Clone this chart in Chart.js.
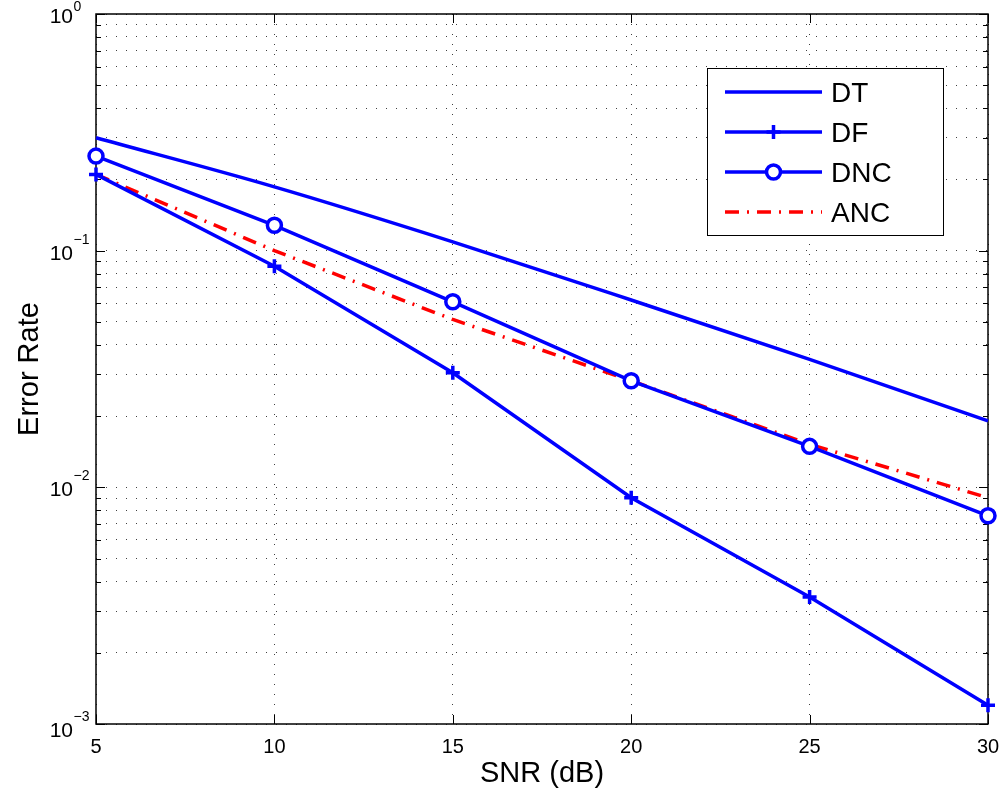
<!DOCTYPE html>
<html>
<head>
<meta charset="utf-8">
<script src="https://cdn.jsdelivr.net/npm/chart.js@4"></script>
<style>
  html, body { margin: 0; padding: 0; background: #fff; }
  #wrap { width: 1005px; height: 799px; position: relative; }
</style>
</head>
<body>
<div id="wrap"><canvas id="chart"></canvas></div>
<script>
// values
var snr = [5, 10, 15, 20, 25, 30];
var dtRate = [0.300, 0.186, 0.109, 0.0619, 0.0347, 0.0191];
var dfRate = [0.210, 0.0859, 0.0305, 0.00904, 0.00344, 0.00120];
var dncRate = [0.251, 0.128, 0.0608, 0.0282, 0.0149, 0.00758];
var ancRate = [0.210, 0.100, 0.0512, 0.0282, 0.0152, 0.00904];
var xTicks = [5, 10, 15, 20, 25, 30];
var yDecades = [-3, -2, -1, 0];

var FONT = "'Liberation Sans', Arial, Helvetica, sans-serif";

function isDecade(v) {
  var l = Math.log10(v);
  return Math.abs(l - Math.round(l)) < 1e-6;
}

function pts(ys) {
  return snr.map(function (x, i) { return { x: x, y: ys[i] }; });
}

// draws box, inward ticks and the 10^n labels
var axesBox = {
  id: 'axesBox',
  beforeDatasetsDraw: function (chart) {
    var ctx = chart.ctx, a = chart.chartArea;
    var xs = chart.scales.x, ys = chart.scales.y;
    ctx.save();
    ctx.strokeStyle = '#000';
    ctx.lineWidth = 1;
    ctx.beginPath();
    xs.ticks.forEach(function (t) {
      var px = Math.round(xs.getPixelForValue(t.value)) + 0.5;
      ctx.moveTo(px, a.bottom); ctx.lineTo(px, a.bottom - 9);
      ctx.moveTo(px, a.top); ctx.lineTo(px, a.top + 9);
    });
    ys.ticks.forEach(function (t) {
      var py = Math.round(ys.getPixelForValue(t.value)) + 0.5;
      var len = isDecade(t.value) ? 9 : 5;
      ctx.moveTo(a.left, py); ctx.lineTo(a.left + len, py);
      ctx.moveTo(a.right, py); ctx.lineTo(a.right - len, py);
    });
    ctx.stroke();
    ctx.lineWidth = 1.5;
    ctx.strokeRect(a.left, a.top, a.right - a.left, a.bottom - a.top);

    // y tick labels
    ctx.fillStyle = '#000';
    ctx.textBaseline = 'alphabetic';
    yDecades.forEach(function (e) {
      var py = ys.getPixelForValue(Math.pow(10, e));
      var base = py + 9, sup = py - 7;
      if (sup - 10 < 0) { sup = 11; }
      if (e === yDecades[0]) { base += 4; sup += 4; }
      ctx.font = '21px ' + FONT;
      ctx.textAlign = 'right';
      ctx.fillText('10', 73, base);
      ctx.font = '14px ' + FONT;
      ctx.textAlign = 'left';
      ctx.fillText(e === 0 ? '0' : '\u2212' + (-e), 73.5, sup);
    });
    ctx.restore();
  },
  afterDraw: function (chart) {
    // legend box, top right inside the axes
    var ctx = chart.ctx;
    var lx = 707, ly = 68, lw = 236, lh = 167;
    ctx.save();
    ctx.fillStyle = '#fff';
    ctx.fillRect(lx, ly, lw, lh);
    ctx.strokeStyle = '#000';
    ctx.lineWidth = 1;
    ctx.strokeRect(lx + 0.5, ly + 0.5, lw, lh);
    chart.data.datasets.forEach(function (ds, i) {
      var y = 92 + i * 40;
      ctx.strokeStyle = ds.borderColor;
      ctx.lineWidth = ds.borderWidth;
      ctx.setLineDash(ds.borderDash || []);
      ctx.beginPath();
      ctx.moveTo(725, y); ctx.lineTo(822, y);
      ctx.stroke();
      ctx.setLineDash([]);
      if (ds.pointRadius > 0) {
        ctx.fillStyle = ds.pointBackgroundColor;
        ctx.strokeStyle = ds.borderColor;
        ctx.lineWidth = ds.pointBorderWidth;
        ctx.beginPath();
        if (ds.pointStyle === 'circle') {
          ctx.arc(773.5, y, ds.pointRadius, 0, Math.PI * 2);
          ctx.fill();
        } else {
          ctx.moveTo(773.5 - ds.pointRadius, y); ctx.lineTo(773.5 + ds.pointRadius, y);
          ctx.moveTo(773.5, y - ds.pointRadius); ctx.lineTo(773.5, y + ds.pointRadius);
        }
        ctx.stroke();
      }
      ctx.fillStyle = '#000';
      ctx.font = '28px ' + FONT;
      ctx.textAlign = 'left';
      ctx.textBaseline = 'alphabetic';
      ctx.fillText(ds.label, 831, y + 10);
    });
    ctx.restore();
  }
};

new Chart(document.getElementById('chart'), {
  type: 'line',
  data: {
    datasets: [
      {
        label: 'DT',
        data: pts(dtRate),
        borderColor: '#0000ff',
        borderWidth: 3.5,
        cubicInterpolationMode: 'monotone',
        pointRadius: 0,
        pointBorderWidth: 0
      },
      {
        label: 'DF',
        data: pts(dfRate),
        borderColor: '#0000ff',
        borderWidth: 3.5,
        pointStyle: 'cross',
        pointRadius: 7,
        pointBorderWidth: 3.5,
        pointBorderColor: '#0000ff',
        pointBackgroundColor: '#0000ff'
      },
      {
        label: 'DNC',
        data: pts(dncRate),
        borderColor: '#0000ff',
        borderWidth: 3.5,
        pointStyle: 'circle',
        pointRadius: 7,
        pointBorderWidth: 3.5,
        pointBorderColor: '#0000ff',
        pointBackgroundColor: '#ffffff'
      },
      {
        label: 'ANC',
        data: pts(ancRate),
        borderColor: '#ff0000',
        borderWidth: 3.5,
        borderDash: [14, 8, 2, 8],
        pointRadius: 0,
        pointBorderWidth: 0
      }
    ]
  },
  options: {
    animation: false,
    responsive: true,
    maintainAspectRatio: false,
    devicePixelRatio: 1,
    clip: false,
    layout: { padding: { left: 0, top: 14, right: 17, bottom: 0 } },
    elements: { line: { tension: 0 } },
    plugins: {
      legend: { display: false },
      tooltip: { enabled: false }
    },
    scales: {
      x: {
        type: 'linear',
        min: 5,
        max: 30,
        afterBuildTicks: function (scale) {
          scale.ticks = xTicks.map(function (v) { return { value: v }; });
        },
        afterFit: function (scale) {
          scale.height = 75;
          scale.paddingLeft = 0;
          scale.paddingRight = 0;
        },
        grid: { color: 'rgba(0,0,0,0.75)', lineWidth: 1, drawTicks: false },
        border: { display: false, dash: [1, 9] },
        ticks: {
          color: '#000',
          padding: 11,
          maxRotation: 0,
          autoSkip: false,
          font: { family: FONT, size: 20 }
        },
        title: {
          display: true,
          text: 'SNR (dB)',
          color: '#000',
          font: { family: FONT, size: 29 },
          padding: { top: 0, bottom: 8 }
        }
      },
      y: {
        type: 'logarithmic',
        min: 0.001,
        max: 1,
        afterBuildTicks: function (scale) {
          var t = [];
          yDecades.forEach(function (e) {
            var n = e === 0 ? 1 : 9;
            for (var k = 1; k <= n; k++) {
              t.push({ value: k * Math.pow(10, e) });
            }
          });
          scale.ticks = t;
        },
        afterFit: function (scale) {
          scale.width = 96;
          scale.paddingTop = 0;
          scale.paddingBottom = 0;
        },
        grid: { color: 'rgba(0,0,0,0.75)', lineWidth: 1, drawTicks: false },
        border: { display: false, dash: [1, 9] },
        ticks: { display: false, autoSkip: false },
        title: {
          display: true,
          text: 'Error Rate',
          color: '#000',
          font: { family: FONT, size: 29 },
          padding: { top: 13, bottom: 0 }
        }
      }
    }
  },
  plugins: [axesBox]
});
</script>
</body>
</html>
